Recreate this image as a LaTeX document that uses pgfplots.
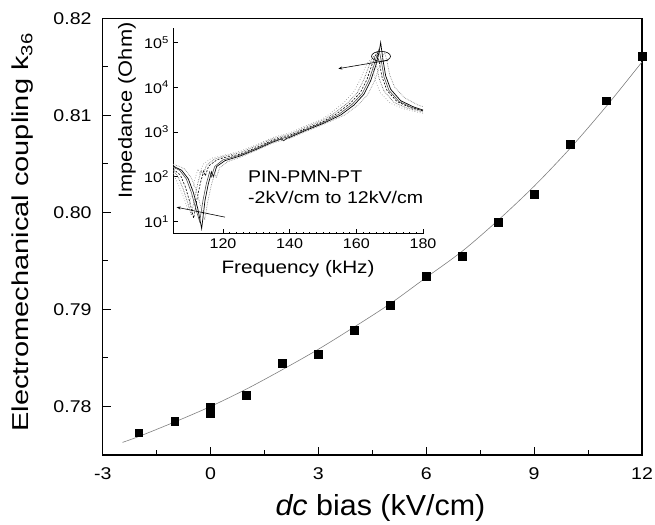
\documentclass[border=0pt]{standalone}
\usepackage{fontspec}
\setmainfont{Liberation Sans}[FakeStretch=1.15]
\newfontfamily\ylabfont{Liberation Sans}[FakeStretch=1.26]
\newfontfamily\xlabfont{Liberation Sans}[FakeStretch=1.05]
\usepackage{pgfplots}
\pgfplotsset{compat=1.18}
\usetikzlibrary{arrows.meta}
\pgfplotsset{/pgf/number format/assume math mode=true}
\begin{document}
\begin{tikzpicture}
\path[use as bounding box] (-102.7bp,-70bp) rectangle (552.3bp,455bp);
\begin{axis}[
  at={(0,0)}, anchor=south west,
  scale only axis, width=539.3bp, height=436.7bp,
  xmin=-3, xmax=12, ymin=0.775, ymax=0.82,
  xtick={-3,0,3,6,9,12}, ytick={0.78,0.79,0.80,0.81,0.82},
  minor x tick num=1, minor y tick num=1,
  scaled y ticks=false,
  tick align=inside, xtick pos=bottom, ytick pos=left,
  major tick length=8bp, minor tick length=5bp,
  axis line style={line width=1.3bp},
  every tick/.style={line width=1bp, black},
  yticklabel style={/pgf/number format/.cd, fixed, fixed zerofill, precision=2, /tikz/.cd,
    font=\fontsize{17bp}{17bp}\selectfont, inner sep=0pt, xshift=-11bp},
  xticklabel style={font=\fontsize{17bp}{17bp}\selectfont, inner sep=0pt, yshift=-12bp},
  xlabel={\textit{dc} bias (kV/cm)},
  ylabel={Electromechanical coupling k\textsubscript{36}},
  xlabel style={font=\xlabfont\fontsize{29bp}{29bp}\selectfont, at={(axis description cs:0.515,-0.1374)}, anchor=base, inner sep=0pt},
  ylabel style={font=\ylabfont\fontsize{23bp}{23bp}\selectfont, at={(axis description cs:-0.1283,0.51)}, anchor=south, inner sep=0pt},
]
\addplot[gray, line width=0.6bp, smooth, no marks] coordinates {
 (-2.45,0.7763) (-2,0.7769) (-1,0.7784) (0,0.7800) (1,0.7818) (2,0.7838) (3,0.7859)
 (4,0.7882) (5,0.7906) (6,0.7933) (7,0.7960) (8,0.7992) (9,0.8027) (10,0.8066)
 (11,0.8109) (12,0.8155)};
\addplot[only marks, mark=square*, mark size=3.9bp, black] coordinates {
 (-2,0.7773) (-1,0.7785) (0,0.7799) (0,0.7793) (1,0.7812) (2,0.7845) (3,0.7854)
 (4,0.7879) (5,0.7904) (6,0.7934) (7,0.7955) (8,0.7990) (9,0.8019) (10,0.8070)
 (11,0.8115) (12,0.8161)};
\end{axis}
\begin{axis}[
  at={(70.3bp,221bp)}, anchor=south west,
  scale only axis, width=250bp, height=206bp,
  ymode=log, log basis y=10,
  xmin=105, xmax=180, ymin=5.3, ymax=2.1e5,
  axis x line*=bottom, axis y line*=left,
  axis line style={line width=1bp, -},
  xtick={120,140,160,180}, minor x tick num=9,
  ytick={10,100,1000,10000,100000},
  yticklabels={10\textsuperscript{1},10\textsuperscript{2},10\textsuperscript{3},10\textsuperscript{4},10\textsuperscript{5}},
  tick align=inside,
  major tick length=5bp, minor tick length=2.5bp,
  every tick/.style={line width=0.7bp, black},
  xticklabel style={font=\fontsize{14bp}{14bp}\selectfont, inner sep=0pt, yshift=-5bp},
  yticklabel style={font=\fontsize{14bp}{14bp}\selectfont, inner sep=0pt, xshift=-4bp},
  xlabel={Frequency (kHz)}, ylabel={Impedance (Ohm)},
  xlabel style={font=\fontsize{18bp}{18bp}\selectfont, at={(axis description cs:0.5,-0.126)}, anchor=north, inner sep=0pt},
  ylabel style={font=\fontsize{19bp}{19bp}\selectfont, at={(axis description cs:-0.148,0.60)}, anchor=south, inner sep=0pt},
]
% C1
\addplot[black, line width=0.7bp, no marks] coordinates {
 (105,175) (106,160) (107.6,140) (109.6,90) (111.1,45) (112.4,20) (113.6,7) (114.6,30)
 (115.6,70) (116.6,130) (117.1,100) (118.1,170) (120.6,230) (125,290) (130,410) (135,600)
 (137.5,700) (138.2,640) (139,720) (140,760) (145,1100) (150,1550) (155.3,2400) (159.3,4000)
 (162.3,7000) (164.3,14000) (165.8,30000) (166.8,60000) (167.3,100000) (168.0,40000)
 (168.8,18000) (170.3,9000) (173.3,5000) (177.3,3600) (180,3100)};
% C2
\addplot[black!70, line width=0.6bp, no marks] coordinates {
 (105,165) (107,140) (109,90) (110.5,45) (111.8,20) (113,10) (114,30) (115,70) (116,130)
 (116.5,100) (117.5,170) (120,240) (125,305) (130,430) (135,630) (140,800) (145,1150)
 (150,1630) (154.8,2500) (158.8,4200) (161.8,7300) (163.8,14500) (165.3,31000)
 (166.3,55000) (166.8,70000) (167.5,38000) (168.3,17000) (169.8,8500) (172.8,4800)
 (176.8,3500) (180,3000)};
% C3
\addplot[black, line width=0.6bp, dash pattern=on 2bp off 1.5bp, no marks] coordinates {
 (105,150) (107.2,110) (108.7,60) (110,28) (111.2,12) (112.2,32) (113.2,72) (114.2,135)
 (114.7,105) (115.7,175) (118.2,240) (120,265) (125,320) (130,450) (135,660) (140,840)
 (145,1210) (150,1700) (154.2,2600) (158.2,4400) (161.2,7600) (163.2,15000) (164.7,32000)
 (165.7,50000) (166.2,60000) (166.9,36000) (167.7,17000) (169.2,8500) (172.2,4800)
 (176.2,3500) (180,2950)};
% C4
\addplot[black!60, line width=0.7bp, densely dotted, no marks] coordinates {
 (105,140) (106.5,100) (108,55) (109.3,28) (110.5,14) (111.5,35) (112.5,75) (113.5,140)
 (114,110) (115,180) (117.5,250) (120,285) (125,345) (130,490) (135,710) (140,900)
 (145,1300) (150,1850) (153.3,2600) (157.3,4400) (160.3,7600) (162.3,15000) (163.8,30000)
 (164.8,45000) (165.3,50000) (166,33000) (166.8,16000) (168.3,8200) (171.3,4600)
 (175.3,3400) (180,2800)};
% C5
\addplot[black!40, line width=0.7bp, dotted, no marks] coordinates {
 (105,120) (106.5,70) (108.2,35) (109.5,18) (110.5,40) (111.5,85) (112.5,150) (113,120)
 (114,190) (116.5,260) (120,300) (125,370) (130,520) (135,760) (140,960) (145,1400)
 (150,2000) (152.2,2600) (156.2,4500) (159.2,7800) (161.2,15000) (162.7,28000)
 (163.7,38000) (164.2,40000) (164.9,28000) (165.7,14000) (167.2,7500) (170.2,4400)
 (174.2,3300) (180,2600)};
% C6
\addplot[black!45, line width=0.7bp, densely dotted, no marks] coordinates {
 (105,190) (107,170) (108.5,150) (110.5,95) (112,50) (113.3,22) (114.5,11) (115.5,30)
 (116.5,65) (117.5,120) (118,95) (119,160) (121.5,220) (125,270) (130,390) (135,570)
 (140,720) (145,1040) (150,1470) (156.5,2400) (160.5,4000) (163.5,7000) (165.5,14000)
 (167,30000) (168,50000) (168.5,60000) (169.2,38000) (170,19000) (171.5,10000)
 (174.5,5800) (178.5,4000) (180,3700)};
\draw[black, line width=0.6bp] (axis cs:167.4,49000) ellipse [x radius=9.5bp, y radius=5bp];
\draw[black, line width=0.6bp, -{Stealth[length=4bp,width=3bp]}] (axis cs:169.5,40000) -- (axis cs:154.6,26000);
\draw[black, line width=0.6bp, -{Stealth[length=4bp,width=3bp]}] (axis cs:120.6,12.6) -- (axis cs:106.1,21);
\node[anchor=base west, inner sep=0pt, font=\fontsize{17bp}{17bp}\selectfont] at (rel axis cs:0.3,0.249) {PIN-PMN-PT};
\node[anchor=base west, inner sep=0pt, font=\fontsize{17bp}{17bp}\selectfont] at (rel axis cs:0.3,0.146) {-2kV/cm to 12kV/cm};
\end{axis}
\end{tikzpicture}
\end{document}
